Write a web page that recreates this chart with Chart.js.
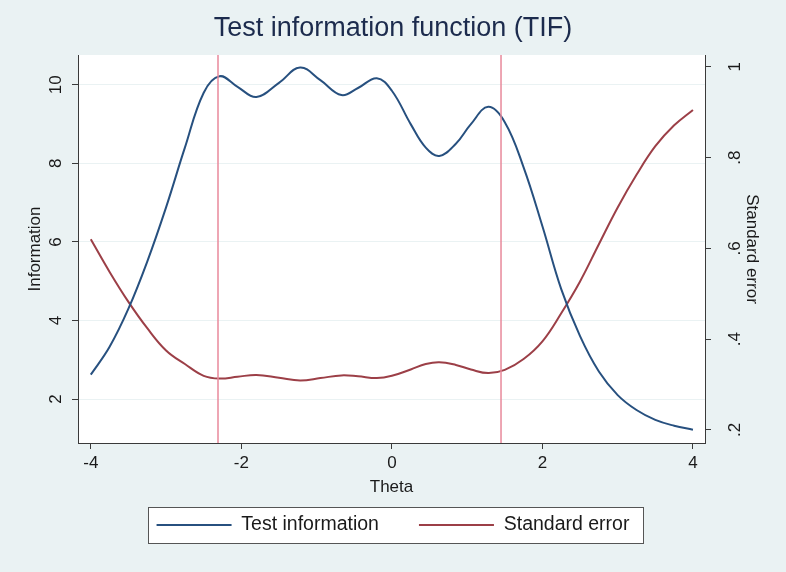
<!DOCTYPE html>
<html><head><meta charset="utf-8">
<script src="https://cdn.jsdelivr.net/npm/chart.js@4.4.1/dist/chart.umd.min.js"></script>
<style>html,body{margin:0;padding:0;background:#eaf2f3;} canvas{display:block}</style>
</head><body>
<canvas id="c" width="786" height="572" style="width:786px;height:572px"></canvas>
<script>
// ---- data ----
const theta = [-4, -3.75, -3.5, -3.25, -3, -2.75, -2.5, -2.29, -2.05, -1.8, -1.5, -1.22, -0.95, -0.67, -0.45, -0.2, 0, 0.25, 0.45, 0.63, 0.85, 1.05, 1.28, 1.5, 1.75, 2, 2.25, 2.5, 2.75, 3, 3.25, 3.5, 3.75, 4];
const information = [2.62, 3.33, 4.3, 5.5, 6.88, 8.4, 9.8, 10.22, 9.95, 9.69, 10.05, 10.44, 10.12, 9.74, 9.92, 10.17, 9.85, 9.0, 8.4, 8.19, 8.5, 9.0, 9.44, 9.05, 7.9, 6.4, 4.8, 3.6, 2.7, 2.1, 1.72, 1.47, 1.32, 1.22];
const standardError = [0.62, 0.548, 0.482, 0.424, 0.375, 0.345, 0.319, 0.313, 0.317, 0.321, 0.315, 0.309, 0.314, 0.320, 0.318, 0.314, 0.319, 0.333, 0.345, 0.349, 0.343, 0.333, 0.325, 0.332, 0.356, 0.395, 0.457, 0.527, 0.609, 0.69, 0.762, 0.825, 0.871, 0.905];
const cutpoints = [-2.31, 1.45];
const xTicks = [-4, -2, 0, 2, 4];
const infoTicks = [2, 4, 6, 8, 10];
const seTicks = [0.2, 0.4, 0.6, 0.8, 1];
const seTickLabels = ['.2', '.4', '.6', '.8', '1'];
const seriesNames = ['Test information', 'Standard error'];

// ---- styling ----
const FAMILY = "'Liberation Sans', Arial, Helvetica, sans-serif";
const axisColor = '#3a3a3a';
const textColor = '#1a1a1a';
const gridColor = '#eaf2f3';
const X_RANGE = [-4.17, 4.16];
const INFO_RANGE = [0.88, 10.76];
const SE_RANGE = [0.171, 1.026];
const f17 = {family: FAMILY, size: 17};

const decor = {
  id: 'decor',
  beforeDraw(chart) {
    const {ctx, chartArea: a} = chart;
    ctx.save();
    ctx.fillStyle = '#eaf2f3';
    ctx.fillRect(0, 0, chart.width, chart.height);
    ctx.fillStyle = '#ffffff';
    ctx.fillRect(a.left, a.top, a.right - a.left, a.bottom - a.top);
    const lg = chart.legend;
    if (lg && lg.legendHitBoxes && lg.legendHitBoxes.length) {
      const hb = lg.legendHitBoxes;
      const last = hb[hb.length - 1];
      const l = Math.round(hb[0].left - 9), r = Math.round(last.left + last.width + 14);
      const cy = Math.round(hb[0].top + hb[0].height / 2);
      ctx.fillStyle = '#ffffff';
      ctx.fillRect(l, cy - 18, r - l, 36);
      ctx.strokeStyle = '#555555';
      ctx.lineWidth = 1;
      ctx.strokeRect(l + 0.5, cy - 18 + 0.5, r - l, 36);
    }
    ctx.restore();
  }
};

const datasets = [
  {label: seriesNames[0], data: theta.map((t, i) => ({x: t, y: information[i]})), yAxisID: 'y',
   borderColor: '#27507f', borderWidth: 2, pointRadius: 0, tension: 0.4, fill: false},
  {label: seriesNames[1], data: theta.map((t, i) => ({x: t, y: standardError[i]})), yAxisID: 'y2',
   borderColor: '#9c3f47', borderWidth: 2, pointRadius: 0, tension: 0.4, fill: false}
];
cutpoints.forEach(c => datasets.push({
  label: 'cut', data: [{x: c, y: INFO_RANGE[0]}, {x: c, y: INFO_RANGE[1]}], yAxisID: 'y',
  borderColor: '#e8899b', borderWidth: 1.5, pointRadius: 0, tension: 0, fill: false, order: -1
}));

new Chart(document.getElementById('c'), {
  type: 'line',
  data: {datasets},
  plugins: [decor],
  options: {
    responsive: false, animation: false, devicePixelRatio: 1,
    layout: {padding: {top: 0, left: 0, right: 0, bottom: 27.25}},
    plugins: {
      tooltip: {enabled: false},
      title: {display: true, text: 'Test information function (TIF)', color: '#1c2b4d',
        font: {family: FAMILY, size: 27, weight: 'normal'}, padding: {top: 12, bottom: 10.6}},
      legend: {
        display: true, position: 'bottom',
        labels: {
          boxWidth: 75, boxHeight: 2, padding: 40, color: textColor,
          font: {family: FAMILY, size: 19.5},
          generateLabels(chart) {
            return chart.data.datasets.slice(0, 2).map((ds, i) => ({
              text: ds.label, fillStyle: ds.borderColor, strokeStyle: ds.borderColor,
              lineWidth: 0, hidden: false, datasetIndex: i, fontColor: textColor
            }));
          }
        }
      }
    },
    scales: {
      x: {
        type: 'linear', position: 'bottom', min: X_RANGE[0], max: X_RANGE[1],
        afterBuildTicks: s => { s.ticks = xTicks.map(v => ({value: v})); },
        afterFit: s => { s.height = 32.25; },
        grid: {drawOnChartArea: false, tickLength: 6, tickColor: axisColor, tickWidth: 1},
        border: {color: axisColor, width: 1},
        ticks: {padding: 4, color: textColor, font: f17, callback: v => String(v), maxRotation: 0, autoSkip: false},
        title: {display: true, text: 'Theta', color: textColor, font: f17, padding: {top: 0, bottom: -21.95}}
      },
      y: {
        type: 'linear', position: 'left', min: INFO_RANGE[0], max: INFO_RANGE[1],
        afterBuildTicks: s => { s.ticks = infoTicks.map(v => ({value: v})); },
        afterFit: s => { s.width = 78; },
        grid: {color: gridColor, lineWidth: 1, tickLength: 6, tickColor: axisColor, tickWidth: 1},
        border: {color: axisColor, width: 1},
        ticks: {padding: 6, color: textColor, font: f17, minRotation: 90, maxRotation: 90,
          crossAlign: 'center', autoSkip: false, callback: v => String(v)},
        title: {display: true, text: 'Information', color: textColor, font: f17, padding: {top: 24.8, bottom: 0}}
      },
      y2: {
        type: 'linear', position: 'right', min: SE_RANGE[0], max: SE_RANGE[1],
        afterBuildTicks: s => { s.ticks = seTicks.map(v => ({value: v})); },
        afterFit: s => { s.width = 81; },
        grid: {drawOnChartArea: false, tickLength: 6, tickColor: axisColor, tickWidth: 1},
        border: {color: axisColor, width: 1},
        ticks: {padding: 17, color: textColor, font: f17, minRotation: 90, maxRotation: 90,
          crossAlign: 'center', autoSkip: false,
          callback: (v) => { const k = seTicks.findIndex(t => Math.abs(t - v) < 1e-9); return k >= 0 ? seTickLabels[k] : ''; }},
        title: {display: true, text: 'Standard error', color: textColor, font: f17, padding: {top: 23.8, bottom: 0}}
      }
    }
  }
});
</script>
</body></html>
